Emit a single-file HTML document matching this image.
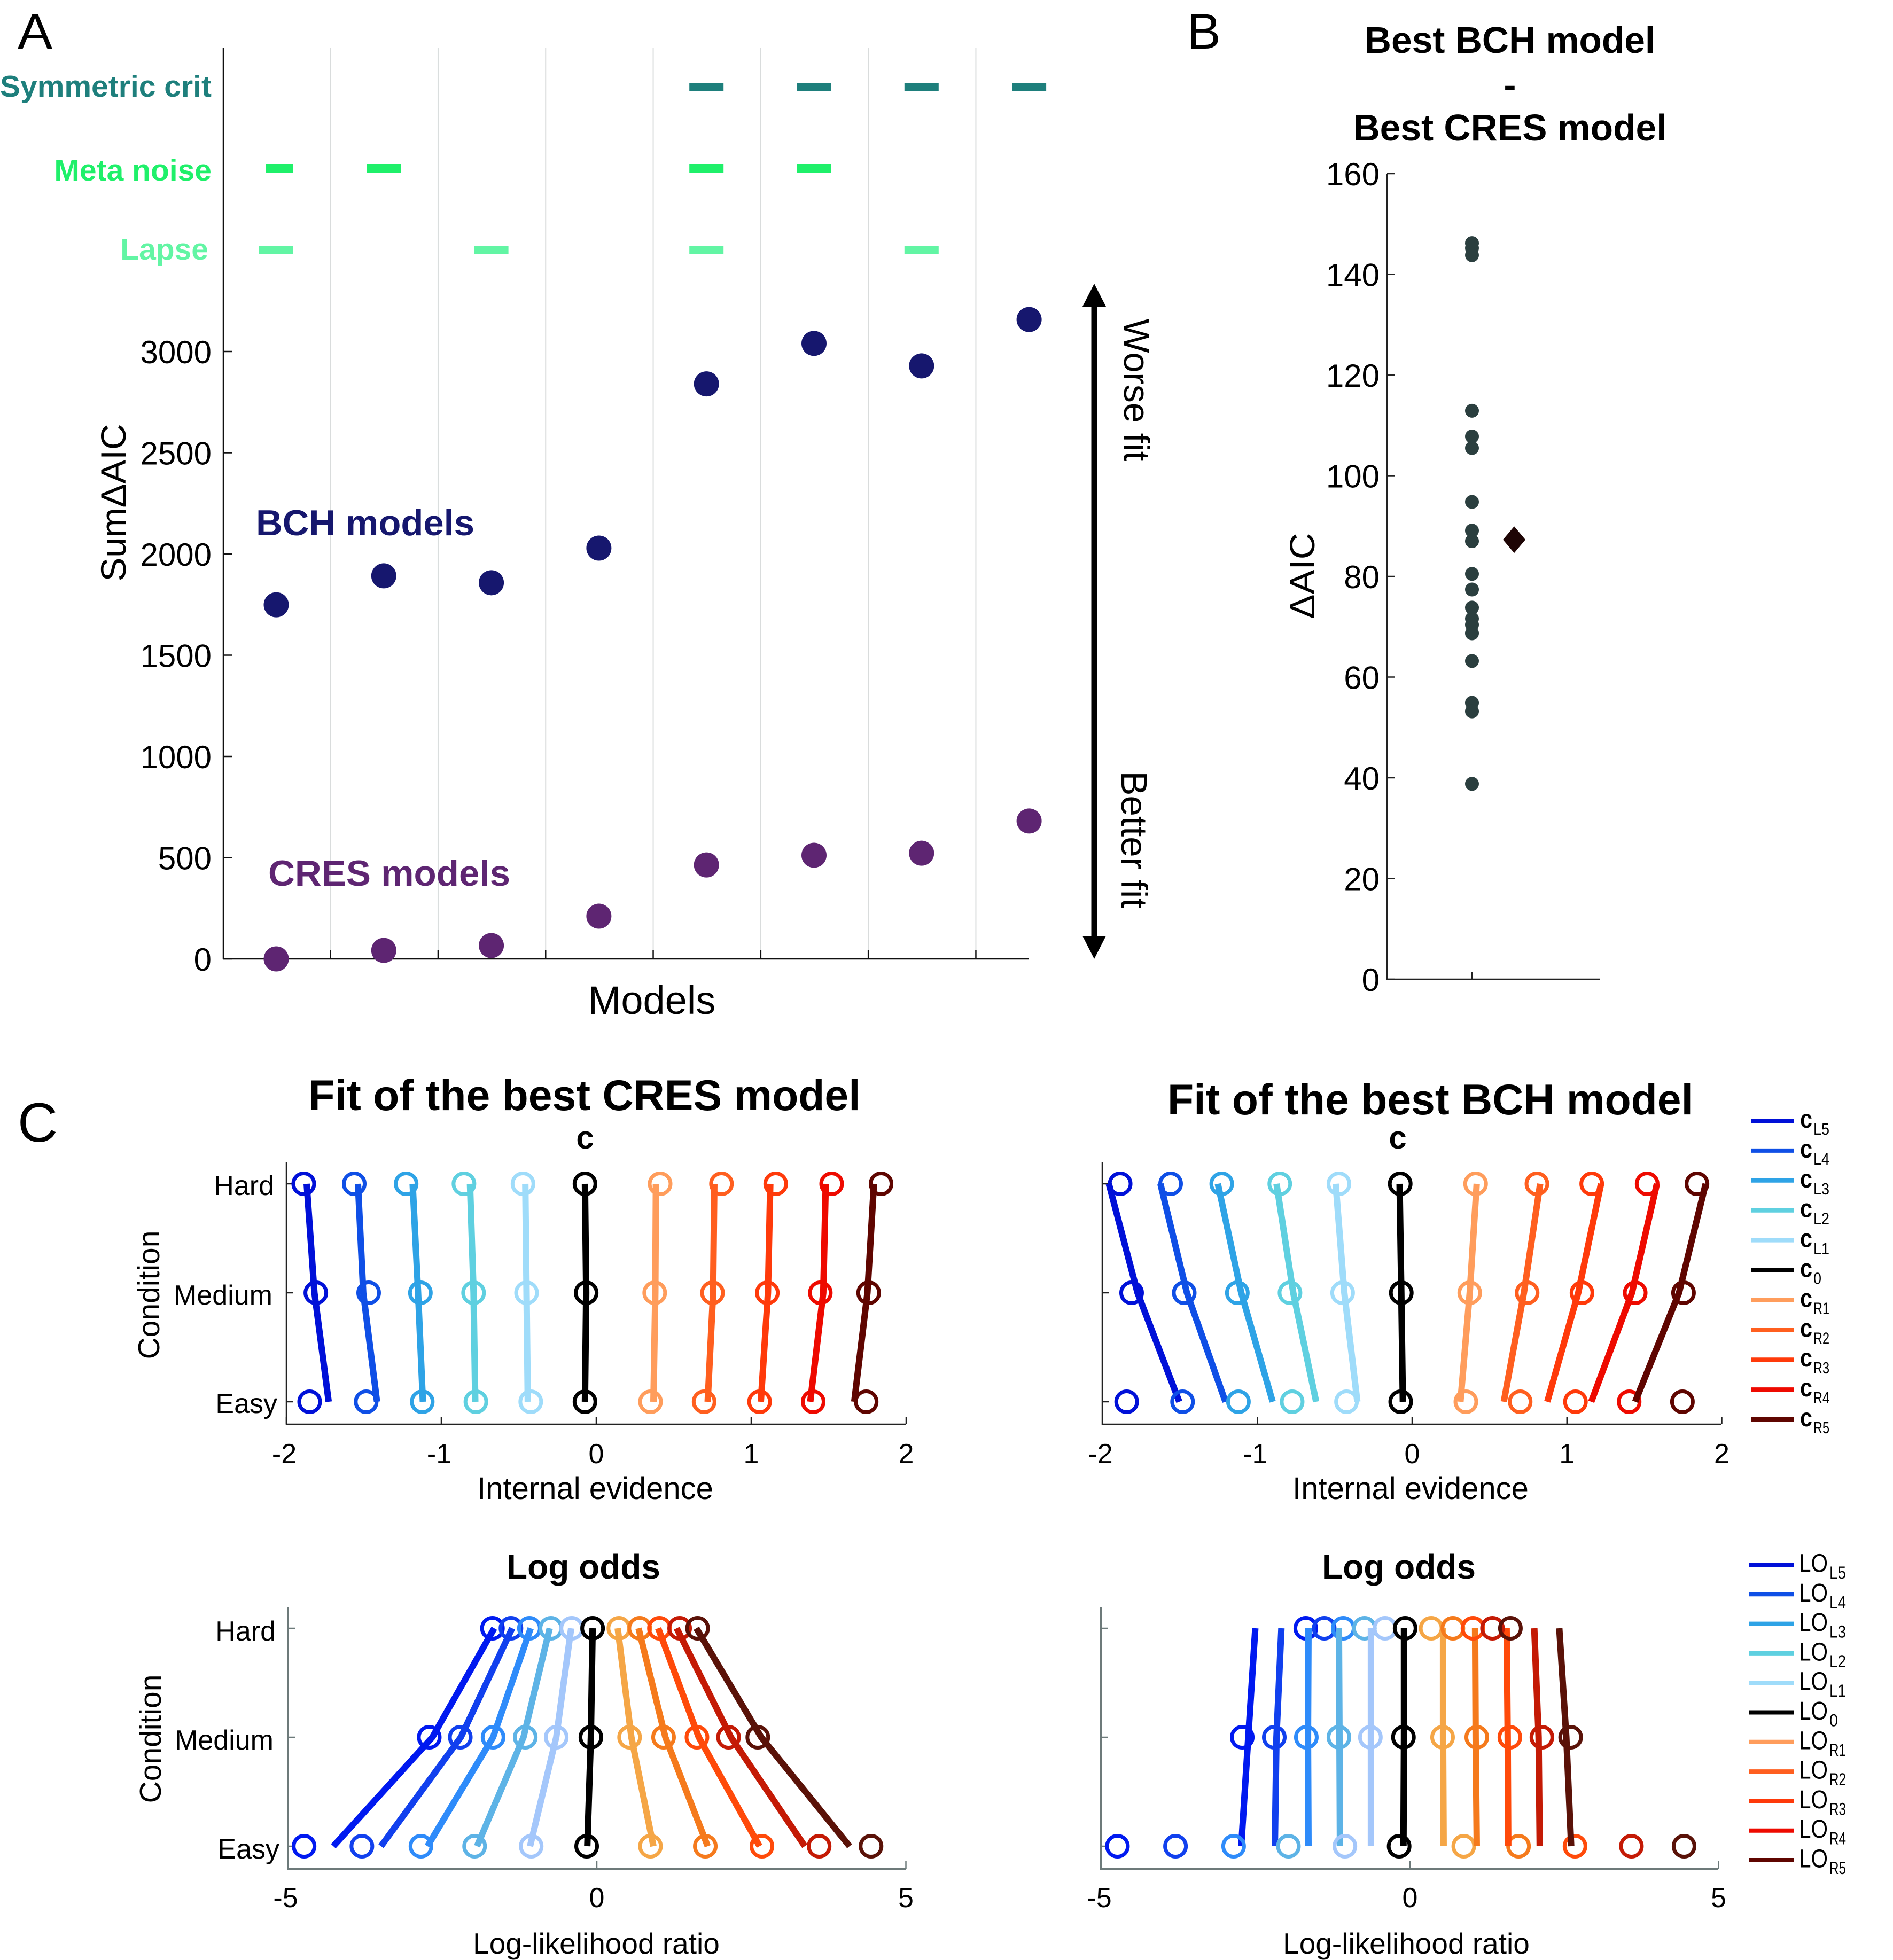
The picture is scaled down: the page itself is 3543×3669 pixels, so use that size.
<!DOCTYPE html>
<html lang="en">
<head>
<meta charset="utf-8">
<title>Model comparison figure</title>
<style>
html,body{margin:0;padding:0;background:#fff;}
svg{display:block;}
text{font-family:"Liberation Sans",Arial,sans-serif;fill:#000;}
.b{font-weight:bold;}
</style>
</head>
<body>
<svg id="figure" xmlns="http://www.w3.org/2000/svg" width="3543" height="3669" viewBox="0 0 3543 3669">
  <rect id="bg" x="0" y="0" width="3543" height="3669" fill="#fff"/>

  <!-- Panel letters -->
  <text x="33" y="91" font-size="94" textLength="65" lengthAdjust="spacingAndGlyphs">A</text>
  <text x="2222" y="91" font-size="94">B</text>
  <text x="33" y="2137" font-size="104">C</text>

  <!-- Panel A static -->
  <text class="b" x="396" y="181" font-size="57" text-anchor="end" style="fill:#1e7f7c">Symmetric crit</text>
  <text class="b" x="396" y="338" font-size="57" text-anchor="end" style="fill:#1ff06a">Meta noise</text>
  <text class="b" x="390" y="486" font-size="57" text-anchor="end" style="fill:#62f5a4">Lapse</text>
  <text x="212" y="941" dy="23" font-size="66" text-anchor="middle" transform="rotate(-90 212 941)" textLength="295" lengthAdjust="spacingAndGlyphs">SumΔAIC</text>
  <text class="b" x="479" y="1002" font-size="68" textLength="409" lengthAdjust="spacingAndGlyphs" style="fill:#16176e">BCH models</text>
  <text class="b" x="502" y="1658" font-size="68" textLength="453" lengthAdjust="spacingAndGlyphs" style="fill:#5e2572">CRES models</text>
  <text x="1220" y="1898" font-size="74" text-anchor="middle">Models</text>
  <line x1="2048" y1="565" x2="2048" y2="1760" stroke="#000" stroke-width="11"/>
  <polygon points="2048,531 2026,574 2070,574" fill="#000"/>
  <polygon points="2048,1795 2026,1752 2070,1752" fill="#000"/>
  <text x="2128" y="730" dy="24" font-size="68" text-anchor="middle" transform="rotate(90 2128 730)">Worse fit</text>
  <text x="2123" y="1572" dy="24" font-size="69" text-anchor="middle" transform="rotate(90 2123 1572)">Better fit</text>

  <!-- Panel B static -->
  <text class="b" x="2826" y="99" font-size="69.5" text-anchor="middle">Best BCH model</text>
  <text class="b" x="2826" y="183" font-size="69.5" text-anchor="middle">-</text>
  <text class="b" x="2826" y="263" font-size="69.5" text-anchor="middle">Best CRES model</text>
  <text x="2437" y="1078" dy="23" font-size="66" text-anchor="middle" transform="rotate(-90 2437 1078)" textLength="161" lengthAdjust="spacingAndGlyphs">ΔAIC</text>

  <!-- Panel C static -->
  <text class="b" x="1094" y="2078" font-size="80.5" text-anchor="middle">Fit of the best CRES model</text>
  <text class="b" x="2677" y="2086" font-size="80.5" text-anchor="middle">Fit of the best BCH model</text>
  <text class="b" x="1095" y="2150" font-size="60" text-anchor="middle">c</text>
  <text class="b" x="2616" y="2150" font-size="60" text-anchor="middle">c</text>
  <text class="b" x="1092" y="2955" font-size="64" text-anchor="middle">Log odds</text>
  <text class="b" x="2618" y="2955" font-size="64" text-anchor="middle">Log odds</text>

  <text x="278" y="2424" dy="20" font-size="57" text-anchor="middle" transform="rotate(-90 278 2424)">Condition</text>
  <text x="281" y="3255" dy="20" font-size="57" text-anchor="middle" transform="rotate(-90 281 3255)">Condition</text>

  <text x="513" y="2237" font-size="52" text-anchor="end">Hard</text>
  <text x="510" y="2442" font-size="52" text-anchor="end">Medium</text>
  <text x="519" y="2645" font-size="52" text-anchor="end">Easy</text>
  <text x="516" y="3071" font-size="52" text-anchor="end">Hard</text>
  <text x="512" y="3275" font-size="52" text-anchor="end">Medium</text>
  <text x="523" y="3479" font-size="52" text-anchor="end">Easy</text>

  <text x="1114" y="2806" font-size="58" text-anchor="middle">Internal evidence</text>
  <text x="2640" y="2806" font-size="58" text-anchor="middle">Internal evidence</text>
  <text x="1116" y="3657" font-size="55" text-anchor="middle">Log-likelihood ratio</text>
  <text x="2632" y="3657" font-size="55" text-anchor="middle">Log-likelihood ratio</text>
</svg>

<script>
// ---------- Panel A data ----------
const modelIndex = [0, 1, 2, 3, 4, 5, 6, 7];
const sumAicTicks = [0, 500, 1000, 1500, 2000, 2500, 3000];
const bchSumAic = [1749, 1892, 1858, 2029, 2840, 3040, 2929, 3158];
const cresSumAic = [0, 42, 66, 211, 464, 512, 522, 681];
const symmetricCritFlags = [0, 0, 0, 0, 1, 1, 1, 1];
const metaNoiseFlags = [1, 1, 0, 0, 1, 1, 0, 0];
const lapseFlags = [1, 0, 1, 0, 1, 0, 1, 0];

// ---------- Panel B data ----------
const deltaAicTicks = [0, 20, 40, 60, 80, 100, 120, 140, 160];
const deltaAicSubjects = [146.2, 145.2, 143.8, 112.9, 107.8, 105.5, 94.8, 89.1, 87, 80.5, 77.4, 73.8, 71.6, 70.4, 68.7, 63.2, 54.9, 53.2, 38.8];
const deltaAicMean = [87.3];

// ---------- Panel C data (L5..L1, 0, R1..R5) ----------
const criteriaTicks = [-2, -1, 0, 1, 2];
const logOddsTicks = [-5, 0, 5];
const legendSubscripts = ['L5', 'L4', 'L3', 'L2', 'L1', '0', 'R1', 'R2', 'R3', 'R4', 'R5'];

const cresCritDataHard = [-1.888, -1.562, -1.227, -0.854, -0.473, -0.073, 0.412, 0.808, 1.158, 1.519, 1.838];
const cresCritDataMedium = [-1.81, -1.469, -1.135, -0.792, -0.45, -0.065, 0.377, 0.75, 1.104, 1.446, 1.758];
const cresCritDataEasy = [-1.85, -1.485, -1.123, -0.777, -0.423, -0.073, 0.35, 0.696, 1.054, 1.4, 1.742];
const cresCritFitHard = [-1.869, -1.538, -1.185, -0.815, -0.458, -0.073, 0.385, 0.762, 1.123, 1.481, 1.792];
const cresCritFitMedium = [-1.819, -1.504, -1.15, -0.792, -0.45, -0.065, 0.381, 0.754, 1.108, 1.465, 1.75];
const cresCritFitEasy = [-1.727, -1.415, -1.119, -0.781, -0.442, -0.073, 0.369, 0.719, 1.062, 1.381, 1.665];

const bchCritDataHard = [-1.886, -1.56, -1.23, -0.855, -0.473, -0.077, 0.41, 0.806, 1.16, 1.518, 1.84];
const bchCritDataMedium = [-1.812, -1.472, -1.129, -0.789, -0.449, -0.07, 0.372, 0.743, 1.097, 1.441, 1.753];
const bchCritDataEasy = [-1.844, -1.483, -1.122, -0.775, -0.424, -0.074, 0.347, 0.698, 1.055, 1.402, 1.746];
const bchCritFitHard = [-1.959, -1.626, -1.255, -0.876, -0.494, -0.081, 0.417, 0.827, 1.22, 1.581, 1.896];
const bchCritFitMedium = [-1.774, -1.455, -1.104, -0.768, -0.438, -0.07, 0.372, 0.722, 1.073, 1.42, 1.724];
const bchCritFitEasy = [-1.504, -1.206, -0.901, -0.62, -0.354, -0.06, 0.312, 0.592, 0.873, 1.157, 1.441];

const cresLoDataHard = [-1.688, -1.389, -1.09, -0.743, -0.405, -0.068, 0.357, 0.694, 1.013, 1.34, 1.63];
const cresLoDataMedium = [-2.71, -2.208, -1.678, -1.157, -0.656, -0.096, 0.53, 1.08, 1.62, 2.131, 2.604];
const cresLoDataEasy = [-4.735, -3.8, -2.845, -1.977, -1.061, -0.164, 0.868, 1.755, 2.671, 3.597, 4.436];
const cresLoFitHard = [-1.659, -1.369, -1.07, -0.762, -0.415, -0.068, 0.338, 0.675, 0.993, 1.292, 1.61];
const cresLoFitMedium = [-2.66, -2.2, -1.678, -1.186, -0.656, -0.096, 0.559, 1.109, 1.649, 2.17, 2.66];
const cresLoFitEasy = [-4.262, -3.491, -2.739, -1.938, -1.08, -0.154, 0.916, 1.794, 2.633, 3.365, 4.089];

const bchLoDataHard = [-1.689, -1.39, -1.082, -0.739, -0.405, -0.079, 0.343, 0.695, 1.02, 1.337, 1.627];
const bchLoDataMedium = [-2.718, -2.199, -1.68, -1.152, -0.642, -0.106, 0.528, 1.082, 1.618, 2.137, 2.603];
const bchLoDataEasy = [-4.741, -3.8, -2.858, -1.97, -1.055, -0.176, 0.871, 1.759, 2.674, 3.588, 4.441];
const bchLoFitHard = [-2.507, -2.084, -1.645, -1.152, -0.633, -0.097, 0.536, 1.055, 1.566, 2.014, 2.419];
const bchLoFitMedium = [-2.621, -2.164, -1.653, -1.143, -0.633, -0.097, 0.536, 1.064, 1.583, 2.084, 2.533];
const bchLoFitEasy = [-2.735, -2.19, -1.645, -1.135, -0.633, -0.106, 0.545, 1.082, 1.592, 2.102, 2.612];

const criteriaPalette = ['#0010d8', '#0f4fe6', '#2ea3e6', '#5fd0e0', '#9fdcfa', '#000000', '#ff9d5c', '#ff5f1f', '#ff3a0a', '#ee0a00', '#5f0500'];
const logOddsPalette = ['#0019f0', '#1140ee', '#2e8bfa', '#5db3e6', '#a4c7fb', '#000000', '#f5a646', '#f57a1c', '#ff4a0a', '#c41a05', '#5a1208'];

// ---------- helpers ----------
const NS = 'http://www.w3.org/2000/svg';
const fig = document.getElementById('figure');
const bg = document.getElementById('bg');

function shape(tag, attrs) {
  const el = document.createElementNS(NS, tag);
  for (const k in attrs) el.setAttribute(k, attrs[k]);
  fig.appendChild(el);
  return el;
}
function label(str, attrs) {
  const el = shape('text', attrs);
  el.textContent = str;
  return el;
}

// ---------- Panel A ----------
const xModel = i => 517 + i * 201.3;
const ySum = v => 1795 - v * 0.379;

for (let i = 1; i < modelIndex.length; i++) {
  const gx = (xModel(i - 1) + xModel(i)) / 2 + 1;
  const grid = shape('line', { x1: gx, y1: 90, x2: gx, y2: 1795, stroke: '#d9dcdc', 'stroke-width': 2 });
  
  
  bg.after(grid);
  const tick = shape('line', { x1: gx, y1: 1795, x2: gx, y2: 1779, stroke: '#111', 'stroke-width': 2.5 });
  
  
}
const aYAxis = shape('line', { x1: 418, y1: 90, x2: 418, y2: 1796, stroke: '#111', 'stroke-width': 2.5 });


const aXAxis = shape('line', { x1: 417, y1: 1795, x2: 1925, y2: 1795, stroke: '#111', 'stroke-width': 2.5 });



sumAicTicks.forEach(v => {
  const t = shape('line', { x1: 418, y1: ySum(v), x2: 435, y2: ySum(v), stroke: '#111', 'stroke-width': 2.5 });
  
  
  const l = label(String(v), { x: 396, y: ySum(v) + 22, 'font-size': 60, 'text-anchor': 'end' });
  
  
});

function drawFlags(flags, rowY, color, nameText, firstInset) {
  flags.forEach((f, i) => {
    if (!f) return;
    const inset = i === 0 ? firstInset : 0;
    const d = shape('rect', { x: xModel(i) - 32 + inset, y: rowY - 8, width: 64 - inset, height: 16, fill: color });
    
    
  });
}
drawFlags(symmetricCritFlags, 163, '#1e7f7c', 'symmetric-crit-flag', 0);
drawFlags(metaNoiseFlags, 315, '#1ff06a', 'meta-noise-flag', 12);
drawFlags(lapseFlags, 468, '#62f5a4', 'lapse-flag', 0);

bchSumAic.forEach((v, i) => {
  const p = shape('circle', { cx: xModel(i), cy: ySum(v), r: 23.5, fill: '#16176e' });
  
  
});
cresSumAic.forEach((v, i) => {
  const p = shape('circle', { cx: xModel(i), cy: ySum(v), r: 23.5, fill: '#5e2572' });
  
  
});

// ---------- Panel B ----------
const yDelta = v => 1833 - v * 9.425;
const bYAxis = shape('line', { x1: 2596, y1: 325, x2: 2596, y2: 1834, stroke: '#222', 'stroke-width': 2.5 });


const bXAxis = shape('line', { x1: 2595, y1: 1833, x2: 2994, y2: 1833, stroke: '#222', 'stroke-width': 2.5 });


const bXTick = shape('line', { x1: 2755, y1: 1833, x2: 2755, y2: 1819, stroke: '#222', 'stroke-width': 2.5 });



deltaAicTicks.forEach(v => {
  const t = shape('line', { x1: 2596, y1: yDelta(v), x2: 2610, y2: yDelta(v), stroke: '#222', 'stroke-width': 2.5 });
  
  
  const l = label(String(v), { x: 2582, y: yDelta(v) + 22, 'font-size': 60, 'text-anchor': 'end' });
  
  
});
deltaAicSubjects.forEach(v => {
  const p = shape('circle', { cx: 2755, cy: yDelta(v), r: 13, fill: '#2b3f3f' });
  
  
});
deltaAicMean.forEach(v => {
  const yc = yDelta(v);
  const m = shape('polygon', { points: [[2834, yc - 25], [2855, yc], [2834, yc + 25], [2813, yc]].map(p => p.join(',')).join(' '), fill: '#1e0505' });
  
  
});

// ---------- Panel C ----------
function drawPanel(prefix, xScale, rowY, ticks, tickLabelY, axisLeft, axisRight, axisTop, axisBottom, axisColor, axisWidth, dataRows, fitRows, palette) {
  const yAxis = shape('line', { x1: axisLeft, y1: axisTop, x2: axisLeft, y2: axisBottom + axisWidth / 2, stroke: axisColor, 'stroke-width': axisWidth });
  
  
  const xAxis = shape('line', { x1: axisLeft, y1: axisBottom, x2: axisRight, y2: axisBottom, stroke: axisColor, 'stroke-width': axisWidth });
  
  

  [0, 1, 2].forEach(r => {
    const t = shape('line', { x1: axisLeft, y1: rowY(r), x2: axisLeft + 13, y2: rowY(r), stroke: axisColor, 'stroke-width': 2.5 });
    
    
  });
  ticks.forEach(v => {
    const t = shape('line', { x1: xScale(v), y1: axisBottom, x2: xScale(v), y2: axisBottom - 14, stroke: axisColor, 'stroke-width': 2.5 });
    
    
    const l = label(String(v), { x: xScale(v) - (v < 0 ? 4 : 0), y: tickLabelY, 'font-size': 52, 'text-anchor': 'middle' });
    
    
  });

  palette.forEach((color, s) => {
    [0, 1, 2].forEach(r => {
      const c = shape('circle', { cx: xScale(dataRows[r][s]), cy: rowY(r), r: 19.5, fill: 'none', stroke: color, 'stroke-width': 7 });
      
      
    });
    const pts = [0, 1, 2].map(r => xScale(fitRows[r][s]) + ',' + rowY(r)).join(' ');
    const line = shape('polyline', { points: pts, fill: 'none', stroke: color, 'stroke-width': 12, 'stroke-linejoin': 'round' });
    
    
  });
}

const yCritRow = r => 2216 + r * 204;
const yLoRow = r => 3048 + r * 204;

drawPanel('cres-criteria', v => 1116 + v * 290, yCritRow, criteriaTicks, 2739, 536, 1696, 2175, 2666, '#222', 2.5,
  [cresCritDataHard, cresCritDataMedium, cresCritDataEasy], [cresCritFitHard, cresCritFitMedium, cresCritFitEasy], criteriaPalette);
drawPanel('bch-criteria', v => 2643 + v * 289.75, yCritRow, criteriaTicks, 2739, 2063, 3222, 2175, 2666, '#222', 2.5,
  [bchCritDataHard, bchCritDataMedium, bchCritDataEasy], [bchCritFitHard, bchCritFitMedium, bchCritFitEasy], criteriaPalette);
drawPanel('cres-log-odds', v => 1117 + v * 115.7, yLoRow, logOddsTicks, 3570, 539, 1696, 3009, 3498, '#6d7a7a', 4,
  [cresLoDataHard, cresLoDataMedium, cresLoDataEasy], [cresLoFitHard, cresLoFitMedium, cresLoFitEasy], logOddsPalette);
drawPanel('bch-log-odds', v => 2639 + v * 115.5, yLoRow, logOddsTicks, 3570, 2060, 3215, 3009, 3498, '#6d7a7a', 4,
  [bchLoDataHard, bchLoDataMedium, bchLoDataEasy], [bchLoFitHard, bchLoFitMedium, bchLoFitEasy], logOddsPalette);

// ---------- Legends ----------
const yLegendCrit = i => 2098 + i * 55.9;
const yLegendLo = i => 2929 + i * 55.3;

legendSubscripts.forEach((sub, i) => {
  const y = yLegendCrit(i);
  const sw = shape('line', { x1: 3277, y1: y, x2: 3358, y2: y, stroke: criteriaPalette[i], 'stroke-width': 8 });
  
  
  const t = label('c', { x: 3369, y: y + 13, 'font-size': 48, textLength: 23, lengthAdjust: 'spacingAndGlyphs', 'font-weight': 'bold' });
  
  
  const s = label(sub, { x: 3394, y: y + 26, 'font-size': 31, textLength: sub.length === 1 ? 15 : 30, lengthAdjust: 'spacingAndGlyphs' });
  
  
});

legendSubscripts.forEach((sub, i) => {
  const y = yLegendLo(i);
  const sw = shape('line', { x1: 3274, y1: y, x2: 3357, y2: y, stroke: criteriaPalette[i], 'stroke-width': 8 });
  
  
  const t = label('LO', { x: 3367, y: y + 13.5, 'font-size': 48, textLength: 54, lengthAdjust: 'spacingAndGlyphs' });
  
  
  const s = label(sub, { x: 3424, y: y + 26, 'font-size': 32, textLength: sub.length === 1 ? 16 : 31, lengthAdjust: 'spacingAndGlyphs' });
  
  
});
</script>
</body>
</html>
